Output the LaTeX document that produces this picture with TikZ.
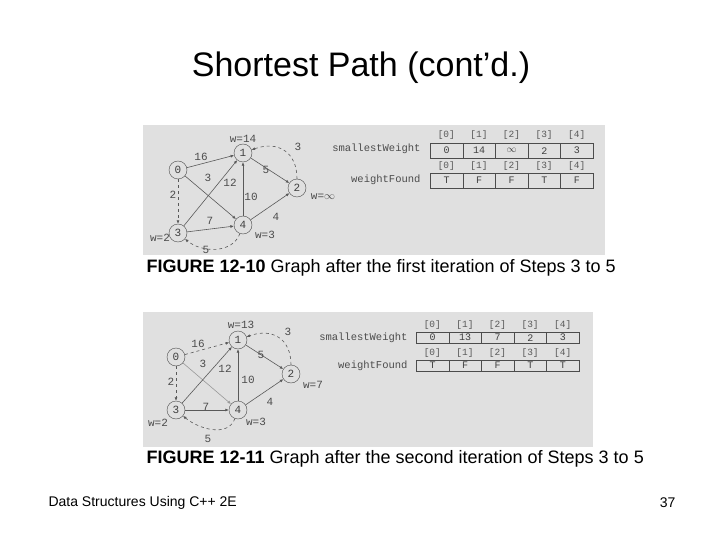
\documentclass[tikz,border=0pt]{standalone}
\usepackage{fontspec}
\setmainfont{Liberation Sans}
\newfontfamily\monof{Liberation Mono}
\begin{document}
\begin{tikzpicture}[x=1pt,y=-1pt,
  vtx/.style={draw=black!70,circle,minimum size=18pt,inner sep=0pt,font=\monof\fontsize{11}{11}\selectfont,text=black!75},
  edg/.style={draw=black!65,line width=0.6pt,-{Latex[length=3.5pt,width=3pt]}},
  lab/.style={font=\monof\fontsize{11}{11}\selectfont,text=black!70},
  slab/.style={font=\monof\fontsize{10.5}{11}\selectfont,text=black!70},
  cell/.style={draw=black!70,minimum height=15pt,inner sep=0pt,font=\monof\fontsize{10}{10}\selectfont,text=black!75,anchor=north west},
  hd/.style={font=\monof\fontsize{9.5}{10}\selectfont,text=black!65}]
\usetikzlibrary{arrows.meta}
\useasboundingbox (0,0) rectangle (720,540);
\fill[white] (0,0) rectangle (720,540);
\node[font=\fontsize{34}{40}\selectfont] (title) at (361,68) {Shortest Path (cont’d.)};
% ---------- figure 1 ----------
\fill[black!12] (143,125) rectangle (605,255);
\node[vtx] (a0) at (178,170) {0};
\node[vtx] (a1) at (243,153) {1};
\node[vtx] (a2) at (297,188) {2};
\node[vtx] (a3) at (178,233) {3};
\node[vtx] (a4) at (243,225) {4};
\draw[edg] (a0) -- (a1);
\draw[edg] (a0) -- (a4);
\draw[edg,dashed] (a0) -- (a3);
\draw[edg] (a1) -- (a2);
\draw[edg,dashed] (a2) to[out=90,in=20,looseness=1.3] (a1);
\draw[edg] (a3) -- (a1);
\draw[edg] (a3) -- (a4);
\draw[edg] (a4) -- (a1);
\draw[edg] (a4) -- (a2);
\draw[edg,dashed] (a4) to[out=-110,in=-40] (a3);
\node[lab] (a_w1) at (243,139) {w=14};
\node[lab] (a_w2) at (323,197) {w=$\infty$};
\node[lab] (a_w3) at (160,238) {w=2};
\node[lab] (a_w4) at (265,235) {w=3};
\node[lab] (a_l1) at (201,157) {16};
\node[lab] (a_l2) at (298,147) {3};
\node[lab] (a_l3) at (266,170) {5};
\node[lab] (a_l4) at (208,178) {3};
\node[lab] (a_l5) at (230,183) {12};
\node[lab] (a_l6) at (251,197) {10};
\node[lab] (a_l7) at (173,195) {2};
\node[lab] (a_l8) at (210,221) {7};
\node[lab] (a_l9) at (276,217) {4};
\node[lab] (a_l10) at (206,250) {5};
\node[slab,anchor=east] (a_sw) at (424,149) {smallestWeight};
\node[slab,anchor=east] (a_wf) at (424,180) {weightFound};
\foreach \i/\v/\f in {0/0/T,1/14/F,2/$\infty$/F,3/2/T,4/3/F}{
  \node[hd] (a_h\i) at ({446.3+32.6*\i},135) {[\i]};
  \node[cell,minimum width=32.6pt] (a_c\i) at ({430+32.6*\i},143) {\v};
  \node[hd] (a_g\i) at ({446.3+32.6*\i},166) {[\i]};
  \node[cell,minimum width=32.6pt] (a_d\i) at ({430+32.6*\i},173) {\f};
}
\node[anchor=west,font=\fontsize{18}{20}\selectfont] (cap1) at (143,268) {\textbf{FIGURE 12-10} Graph after the first iteration of Steps 3 to 5};
% ---------- figure 2 ----------
\fill[black!12] (143,312) rectangle (593,447);
\node[vtx] (b0) at (176,357) {0};
\node[vtx] (b1) at (238,340) {1};
\node[vtx] (b2) at (291,374) {2};
\node[vtx] (b3) at (176,410) {3};
\node[vtx] (b4) at (238,410) {4};
\draw[edg,dashed] (b0) -- (b1);
\draw[edg,black!40] (b0) -- (b4);
\draw[edg,dashed] (b0) -- (b3);
\draw[edg] (b1) -- (b2);
\draw[edg,dashed] (b2) to[out=90,in=20,looseness=1.3] (b1);
\draw[edg] (b3) -- (b1);
\draw[edg] (b3) -- (b4);
\draw[edg] (b4) -- (b1);
\draw[edg] (b4) -- (b2);
\draw[edg,dashed] (b4) to[out=-110,in=-40] (b3);
\node[lab] (b_w1) at (241,325) {w=13};
\node[lab] (b_w2) at (313,385) {w=7};
\node[lab] (b_w3) at (158,423) {w=2};
\node[lab] (b_w4) at (256,422) {w=3};
\node[lab] (b_l1) at (198,344) {16};
\node[lab] (b_l2) at (288,332) {3};
\node[lab] (b_l3) at (261,355) {5};
\node[lab] (b_l4) at (203,364) {3};
\node[lab] (b_l5) at (225,369) {12};
\node[lab] (b_l6) at (248,380) {10};
\node[lab] (b_l7) at (171,382) {2};
\node[lab] (b_l8) at (206,407) {7};
\node[lab] (b_l9) at (270,402) {4};
\node[lab] (b_l10) at (208,439) {5};
\node[slab,anchor=east] (b_sw) at (411,338) {smallestWeight};
\node[slab,anchor=east] (b_wf) at (411,366) {weightFound};
\foreach \i/\v/\f in {0/0/T,1/13/F,2/7/F,3/2/T,4/3/T}{
  \node[hd] (b_h\i) at ({432.3+32.6*\i},325) {[\i]};
  \node[cell,minimum width=32.6pt,minimum height=11pt] (b_c\i) at ({416+32.6*\i},332) {\v};
  \node[hd] (b_g\i) at ({432.3+32.6*\i},353) {[\i]};
  \node[cell,minimum width=32.6pt,minimum height=11pt] (b_d\i) at ({416+32.6*\i},360) {\f};
}
\node[anchor=west,font=\fontsize{18}{20}\selectfont] (cap2) at (143,459) {\textbf{FIGURE 12-11} Graph after the second iteration of Steps 3 to 5};
% footer
\node[anchor=west,font=\fontsize{14}{16}\selectfont] (foot) at (45,503) {Data Structures Using C++ 2E};
\node[anchor=east,font=\fontsize{14}{16}\selectfont] (pg) at (679,503) {37};
\end{tikzpicture}
\end{document}
